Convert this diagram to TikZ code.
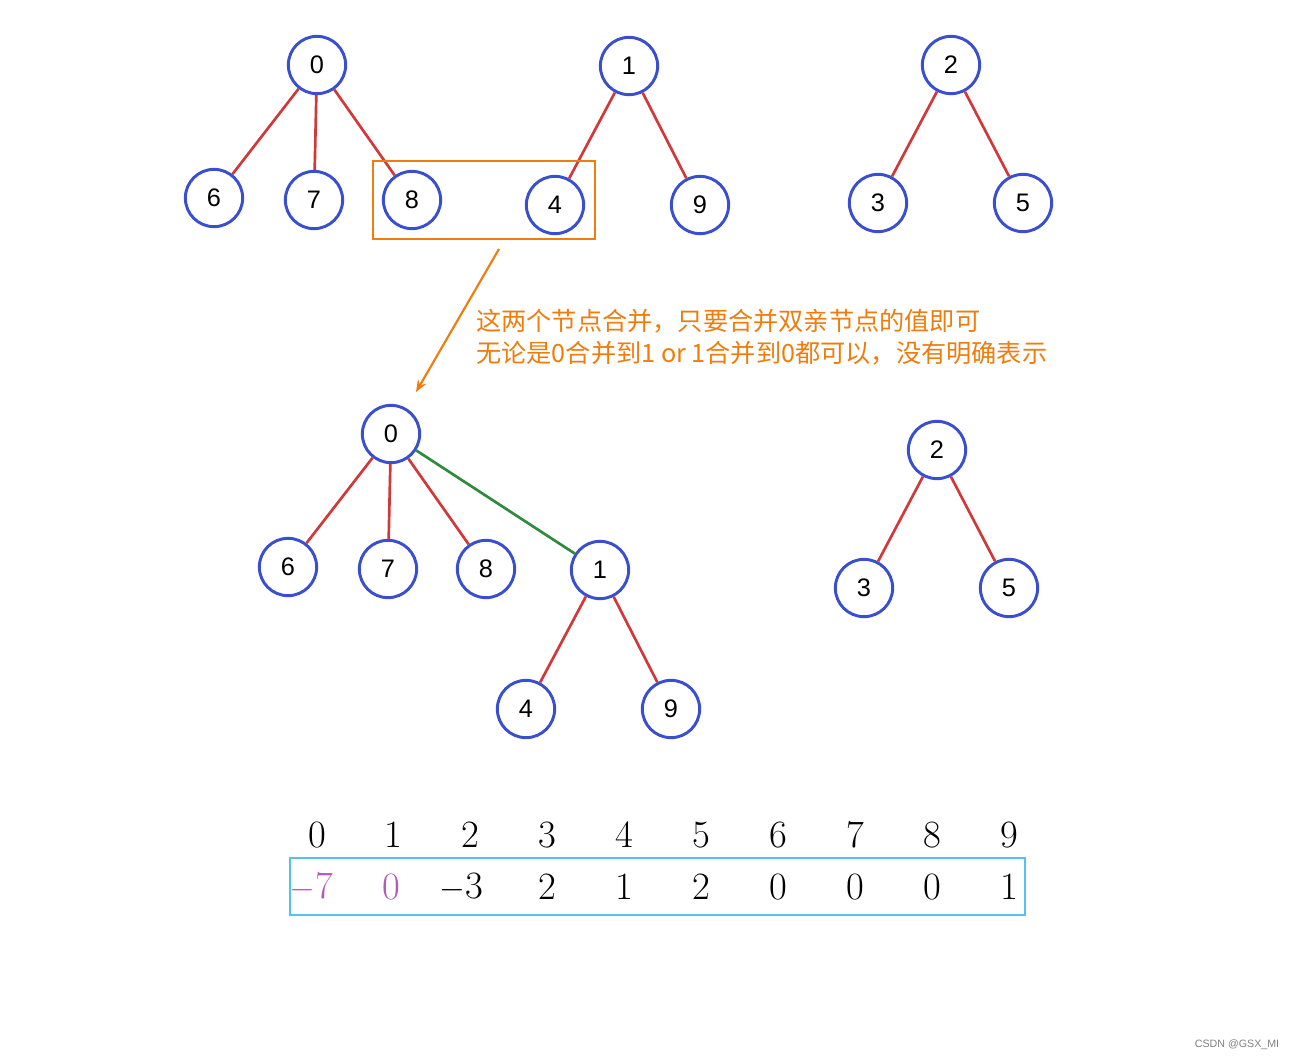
\documentclass[tikz,border=0pt]{standalone}
\usepackage{fontspec}
\setmainfont{Liberation Sans}
\newfontfamily\cjk{Noto Sans CJK SC}
\newfontfamily\lmr{Latin Modern Roman}
\usetikzlibrary{arrows.meta}
\definecolor{ndblue}{HTML}{3A4FCF}
\definecolor{edred}{HTML}{D0383A}
\definecolor{edgreen}{HTML}{2E8B3E}
\definecolor{orng}{HTML}{EE7D0E}
\definecolor{arrblue}{HTML}{55C2EE}
\definecolor{purp}{HTML}{B45AB8}
\begin{document}
\begin{tikzpicture}[x=0.75pt,y=-0.75pt,
  nd/.style={circle,draw=ndblue,line width=2.2pt,minimum size=43pt,inner sep=0pt,fill=white,font=\fontsize{19}{22}\selectfont},
  ed/.style={draw=edred,line width=2pt},
  edg/.style={draw=edgreen,line width=2pt},
  idx/.style={font=\lmr\fontsize{29}{34}\selectfont,inner sep=0pt},
  val/.style={font=\lmr\fontsize{29}{34}\selectfont,inner sep=0pt}]
\useasboundingbox (0,0) rectangle (1293,1060);

% top forest
\node[nd] (a0) at (317,65) {0};
\node[nd] (a6) at (214,198) {6};
\node[nd] (a7) at (314,200) {7};
\node[nd] (a8) at (412,200) {8};
\node[nd] (a1) at (629,66) {1};
\node[nd] (a4) at (555,205) {4};
\node[nd] (a9) at (700,205) {9};
\node[nd] (a2) at (951,65) {2};
\node[nd] (a3) at (878,203) {3};
\node[nd] (a5) at (1023,203) {5};
\draw[ed] (a0) -- (a6);
\draw[ed] (a0) -- (a7);
\draw[ed] (a0) -- (a8);
\draw[ed] (a1) -- (a4);
\draw[ed] (a1) -- (a9);
\draw[ed] (a2) -- (a3);
\draw[ed] (a2) -- (a5);

% highlight box
\node[draw=orng,line width=1.6pt,minimum width=166.5pt,minimum height=58.5pt,inner sep=0pt] (hbox) at (484,200) {};

% arrow
\coordinate (arS) at (499,249);
\coordinate (arE) at (416,392);
\draw[orng,line width=1.6pt,-{Stealth[length=9pt,width=7pt]}] (arS) -- (arE);

\node[anchor=west,inner sep=0pt,align=left,text=orng,font=\cjk\fontsize{18.9}{24}\selectfont] (note) at (476,337)
 {这两个节点合并，只要合并双亲节点的值即可\\无论是0合并到1 or 1合并到0都可以，没有明确表示};

% bottom forest
\node[nd] (b0) at (391,434) {0};
\node[nd] (b6) at (288,567) {6};
\node[nd] (b7) at (388,569) {7};
\node[nd] (b8) at (486,569) {8};
\node[nd] (b1) at (600,570) {1};
\node[nd] (b4) at (526,709) {4};
\node[nd] (b9) at (671,709) {9};
\node[nd] (b2) at (937,450) {2};
\node[nd] (b3) at (864,588) {3};
\node[nd] (b5) at (1009,588) {5};
\draw[ed] (b0) -- (b6);
\draw[ed] (b0) -- (b7);
\draw[ed] (b0) -- (b8);
\draw[edg] (b0) -- (b1);
\draw[ed] (b1) -- (b4);
\draw[ed] (b1) -- (b9);
\draw[ed] (b2) -- (b3);
\draw[ed] (b2) -- (b5);

% array
\node[draw=arrblue,line width=1.6pt,minimum width=551pt,minimum height=42.5pt,inner sep=0pt] (arr) at (657.5,886.5) {};
\foreach \i/\x in {0/317,1/393,2/470,3/547,4/624,5/701,6/778,7/855,8/932,9/1009}{
  \node[idx] (i\i) at (\x,835) {\i};
}
\node[val,text=purp] (v0) at (311,887) {$-$7};
\node[val,text=purp] (v1) at (391,887) {0};
\node[val] (v2) at (461,887) {$-$3};
\node[val] (v3) at (547,887) {2};
\node[val] (v4) at (624,887) {1};
\node[val] (v5) at (701,887) {2};
\node[val] (v6) at (778,887) {0};
\node[val] (v7) at (855,887) {0};
\node[val] (v8) at (932,887) {0};
\node[val] (v9) at (1009,887) {1};

\node[text=gray,font=\fontsize{8}{10}\selectfont] (wm) at (1237,1045) {CSDN @GSX\_MI};
\end{tikzpicture}
\end{document}
